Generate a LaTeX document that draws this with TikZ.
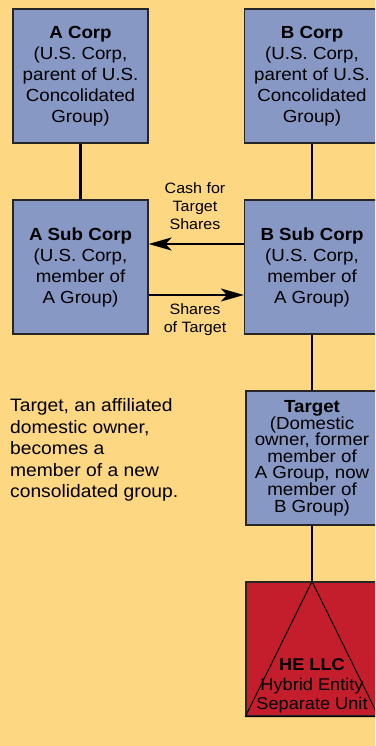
\documentclass[tikz,border=0pt]{standalone}
\usepackage{fontspec}
\setmainfont{Liberation Sans}[FakeStretch=1.07]
\usetikzlibrary{arrows.meta}
\definecolor{bg}{RGB}{253,215,130}
\definecolor{boxblue}{RGB}{136,152,196}
\definecolor{hered}{RGB}{196,30,45}
\begin{document}
\begin{tikzpicture}[x=1pt,y=-1pt,
 entity/.style={draw=black!85, line width=1.2pt, fill=boxblue, minimum width=135pt, minimum height=134pt, inner sep=0pt, align=center, font=\fontsize{17.5}{21}\selectfont},
 link/.style={line width=2.8pt},
 flow/.style={line width=2.4pt, -{Stealth[length=23pt,width=13pt,inset=6pt]}},
 lbl/.style={align=center, inner sep=0pt, font=\fontsize{15}{18}\selectfont}]
\fill[bg] (0,0) rectangle (375,746);
\useasboundingbox (0,0) rectangle (375,746);
\clip (0,0) rectangle (375,746);
\node[entity] (acorp) at (80.5,76) {\textbf{A Corp}\\(U.S. Corp,\\parent of U.S.\\Concolidated\\Group)};
\node[entity] (bcorp) at (312,76) {\textbf{B Corp}\\(U.S. Corp,\\parent of U.S.\\Concolidated\\Group)};
\node[entity] (asub) at (80.5,267) {\textbf{A Sub Corp}\\(U.S. Corp,\\member of\\A Group)};
\node[entity] (bsub) at (312,267) {\textbf{B Sub Corp}\\(U.S. Corp,\\member of\\A Group)};
\node[entity, minimum width=132pt, font=\fontsize{17.5}{16.3}\selectfont] (target) at (312,458) {\textbf{Target}\\(Domestic\\owner, former\\member of\\A Group, now\\member of\\B Group)};
\node[entity, fill=hered, minimum width=132pt] (he) at (312,649) {};
\draw[line width=1pt] (he.north) -- (he.south west) -- (he.south east) -- cycle;
\node[align=center, inner sep=0pt, font=\fontsize{17}{19.5}\selectfont] (helbl) at (312,686) {\textbf{HE LLC}\\Hybrid Entity\\Separate Unit};
\draw[link] (acorp) -- (asub);
\draw[link] (bcorp) -- (bsub);
\draw[link] (bsub) -- (target);
\draw[link] (target) -- (he);
\draw[flow] ([yshift=23pt]bsub.west) -- ([yshift=23pt]asub.east);
\draw[flow] ([yshift=-28pt]asub.east) -- ([yshift=-28pt]bsub.west);
\node[lbl] (cashlbl) at (195,206) {Cash for\\Target\\Shares};
\node[lbl] (shareslbl) at (195,320) {Shares\\of Target};
\node[anchor=west, align=left, inner sep=0pt, font=\fontsize{18}{21.6}\selectfont] (note) at (10,450) {Target, an affiliated\\domestic owner,\\becomes a\\member of a new\\consolidated group.};
\end{tikzpicture}
\end{document}
